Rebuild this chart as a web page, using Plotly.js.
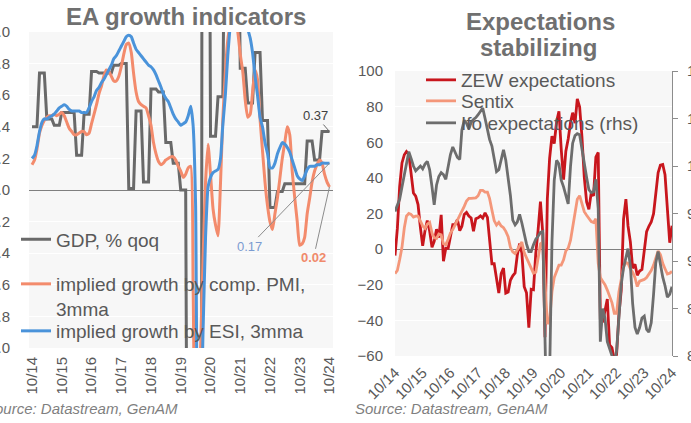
<!DOCTYPE html>
<html>
<head>
<meta charset="utf-8">
<script src="https://cdn.plot.ly/plotly-3.0.1.min.js"></script>
<style>html,body{margin:0;padding:0;background:#fff;}#chart{width:691px;height:423px;}</style>
</head>
<body>
<div id="chart"></div>
<script>
// ---- shared monthly dates (Oct 2014 - Oct 2024) ----
const months = [
 '2014-10','2014-11','2014-12',
 '2015-01','2015-02','2015-03','2015-04','2015-05','2015-06','2015-07','2015-08','2015-09','2015-10','2015-11','2015-12',
 '2016-01','2016-02','2016-03','2016-04','2016-05','2016-06','2016-07','2016-08','2016-09','2016-10','2016-11','2016-12',
 '2017-01','2017-02','2017-03','2017-04','2017-05','2017-06','2017-07','2017-08','2017-09','2017-10','2017-11','2017-12',
 '2018-01','2018-02','2018-03','2018-04','2018-05','2018-06','2018-07','2018-08','2018-09','2018-10','2018-11','2018-12',
 '2019-01','2019-02','2019-03','2019-04','2019-05','2019-06','2019-07','2019-08','2019-09','2019-10','2019-11','2019-12',
 '2020-01','2020-02','2020-03','2020-04','2020-05','2020-06','2020-07','2020-08','2020-09','2020-10','2020-11','2020-12',
 '2021-01','2021-02','2021-03','2021-04','2021-05','2021-06','2021-07','2021-08','2021-09','2021-10','2021-11','2021-12',
 '2022-01','2022-02','2022-03','2022-04','2022-05','2022-06','2022-07','2022-08','2022-09','2022-10','2022-11','2022-12',
 '2023-01','2023-02','2023-03','2023-04','2023-05','2023-06','2023-07','2023-08','2023-09','2023-10','2023-11','2023-12',
 '2024-01','2024-02','2024-03','2024-04','2024-05','2024-06','2024-07','2024-08','2024-09','2024-10'
];
const tickDates = ['2014-10-01','2015-10-01','2016-10-01','2017-10-01','2018-10-01','2019-10-01','2020-10-01','2021-10-01','2022-10-01','2023-10-01','2024-10-01'];
const tickLabels = ['10/14','10/15','10/16','10/17','10/18','10/19','10/20','10/21','10/22','10/23','10/24'];

// ---- left panel: EA growth indicators ----
const gdpQoq = [
 0.40,0.40,0.40, 0.74,0.74,0.74, 0.45,0.45,0.45, 0.41,0.41,0.41,
 0.49,0.49,0.49, 0.49,0.49,0.49, 0.22,0.22,0.22, 0.48,0.48,0.48,
 0.75,0.75,0.75, 0.74,0.74,0.74, 0.74,0.74,0.74, 0.79,0.79,0.79,
 0.80,0.80,0.80, 0.01,0.01,0.01, 0.50,0.50,0.50, 0.05,0.05,0.05,
 0.64,0.64,0.64, 0.62,0.62,0.62, 0.30,0.30,0.30, 0.17,0.17,0.17,
 0.00,0.00,0.00, -3.6,-3.6,-3.6, -11.3,-11.3,-11.3, 12.4,12.4,12.4,
 0.34,0.34,0.34, 0.59,0.59,0.59, 2.2,2.2,2.2, 2.1,2.1,2.1,
 0.77,0.77,0.77, 0.55,0.55,0.55, 0.87,0.87,0.87, 0.44,0.44,0.44,
 -0.11,-0.11,-0.11, -0.01,-0.01,-0.01, 0.04,0.04,0.04, 0.04,0.04,0.04,
 0.04,0.04,0.04, 0.31,0.31,0.31, 0.19,0.19,0.19, 0.37,0.37,0.37,
 0.37
];
const pmiImplied = [
 0.16,0.19,0.26,0.36,0.41,0.44,0.46,0.47,0.47,0.48,
 0.47,0.48,0.49,0.47,0.43,0.39,0.37,0.35,0.35,0.36,
 0.37,0.37,0.35,0.36,0.42,0.48,0.54,0.61,0.66,0.72,
 0.76,0.75,0.72,0.69,0.69,0.72,0.78,0.86,0.92,0.93,
 0.87,0.74,0.62,0.56,0.54,0.53,0.52,0.47,0.41,0.30,
 0.23,0.18,0.16,0.17,0.19,0.20,0.21,0.21,0.19,0.15,
 0.12,0.08,0.10,0.14,0.15,-0.6,-1.8,-1.6,-1.0,-0.44,
 0.05,0.29,0.10,-0.12,-0.22,-0.29,0.05,0.45,0.75,0.95,
 1.05,1.10,1.08,1.00,0.86,0.75,0.57,0.46,0.48,0.62,
 0.76,0.70,0.45,0.25,0.05,-0.10,-0.20,-0.25,-0.15,-0.05,
 0.08,0.20,0.30,0.40,0.35,0.12,-0.05,-0.20,-0.35,-0.34,
 -0.30,-0.15,-0.05,0.05,0.12,0.16,0.19,0.17,0.10,0.05,
 0.02
];
const esiImplied = [
 0.20,0.22,0.28,0.37,0.43,0.45,0.45,0.46,0.47,0.48,
 0.50,0.52,0.53,0.54,0.53,0.51,0.50,0.50,0.50,0.50,
 0.49,0.49,0.49,0.52,0.56,0.59,0.63,0.65,0.68,0.70,
 0.73,0.76,0.79,0.83,0.85,0.88,0.91,0.94,0.97,0.98,
 0.97,0.93,0.89,0.87,0.85,0.83,0.81,0.79,0.78,0.76,
 0.73,0.69,0.65,0.61,0.58,0.56,0.52,0.48,0.45,0.43,
 0.41,0.42,0.43,0.47,0.53,0.41,-0.10,-1.6,-1.5,-0.9,
 -0.30,0.02,0.08,0.11,0.12,0.13,0.20,0.41,0.60,0.85,
 1.05,1.20,1.30,1.30,1.25,1.18,1.10,1.02,0.96,0.87,
 0.72,0.60,0.46,0.40,0.30,0.23,0.14,0.14,0.17,0.23,
 0.27,0.30,0.29,0.27,0.24,0.19,0.14,0.09,0.07,0.06,
 0.09,0.13,0.15,0.15,0.15,0.16,0.16,0.17,0.17,0.17,
 0.17
];

// ---- right panel: Expectations stabilizing ----
const zewExpectations = [
 -3.6,11.5,34.9,
 48.4,53.0,54.8,53.3,41.9,31.5,29.7,25.0,12.1,1.9,10.4,16.1,
 10.2,1.0,4.3,11.2,6.4,19.2,-6.8,0.5,0.5,6.2,13.8,13.8,
 16.6,10.4,12.8,19.5,20.6,18.6,17.5,10.0,17.0,17.6,18.7,17.4,
 20.4,17.8,5.1,-8.2,-8.2,-16.1,-24.7,-13.7,-10.6,-24.7,-24.1,-17.5,
 -15.0,-13.4,-3.6,3.1,-2.1,-21.1,-24.5,-44.1,-22.5,-22.8,-2.1,10.7,
 26.7,8.7,-49.5,28.2,51.0,63.4,59.3,71.5,77.4,56.1,39.0,55.0,
 61.8,71.2,76.6,70.7,84.4,79.8,63.3,40.4,26.5,22.3,31.7,29.9,
 51.7,54.3,-39.3,-41.0,-34.3,-28.0,-53.8,-55.3,-61.9,-59.2,-36.7,-23.3,
 16.9,28.1,13.0,4.1,-10.7,-8.5,-14.7,-12.3,-11.4,-1.1,9.8,12.8,
 15.2,19.9,31.7,42.9,47.1,47.5,41.8,19.2,3.6,13.1
];
const sentix = [
 -13.7,-12,-6,1,12,18.5,20,19.5,18,18.5,
 18.5,16,13,11.6,14,15,9,6.5,6,8.5,
 8,3,2.5,5.5,9,11,13.5,16,19,21,
 24,27,28.5,28.5,28.5,28.8,30,33,33,32,
 32,28.5,22,16,13.5,15,13,12,10,7,
 1,-1.5,-2.5,-0.5,2.5,4,-2,-5,-8,-11,
 -13.5,-13,-5,3,4,-16,-42,-40,-24,-16,
 -12,-9,-9,-6,-1,0.5,5,13,22,28,
 30,25,21,19,17,15.5,15,17,-8,-16,
 -18,-20,-23,-26,-30,-36,-36,-24,-16,-10,
 -7.5,-8,-11,-13,-16,-21,-18,-17.5,-17,-16,
 -14,-12,-9,-5,-1,-3,-8,-11,-14,-13.5,
 -12.5
];
const ifoExpectations = [
 95.2,95.8,96.5,97.8,99.2,100.1,101.5,100.8,100.0,99.5,
 99.8,100.0,99.7,100.2,100.5,99.6,97.8,95.9,98.0,98.9,
 99.3,99.1,98.6,100.0,101.2,102.0,101.4,100.9,100.7,103.8,
 104.8,104.5,103.9,104.6,104.9,105.1,105.4,105.7,106.1,105.0,
 103.7,102.8,102.1,100.8,99.4,99.6,100.6,101.7,100.6,98.8,
 96.9,94.3,93.8,94.1,94.9,94.0,92.7,91.8,91.0,91.0,
 91.7,92.3,92.6,93.0,93.1,84.0,70.0,78.0,92.0,98.5,
 100.6,100.2,98.5,97.8,97.0,96.0,100.0,102.4,103.2,103.4,
 103.3,101.8,100.0,98.8,97.5,97.2,97.3,98.6,95.5,81.5,
 85.0,84.0,81.5,80.8,80.3,79.3,80.5,84.5,87.5,89.3,
 90.5,91.3,89.5,85.5,83.0,82.3,83.0,84.0,84.2,82.8,
 82.5,83.5,86.5,89.8,91.0,89.5,88.3,87.4,86.2,86.5,
 87.3
];

// ---- styling ----
const FONT = 'Liberation Sans, Arial, sans-serif';
const TXT = '#595959';
const W = 691, H = 423;
const px = v => v / W;          // horizontal pixel -> paper
const py = v => 1 - v / H;      // vertical pixel -> paper
const last = a => a[a.length - 1];
const lastDate = months[months.length - 1];

const traces = [
  {x: months, y: gdpQoq, name: 'GDP, % qoq<br> ', type: 'scatter', mode: 'lines',
   line: {color: '#696969', width: 3}, xaxis: 'x', yaxis: 'y', legend: 'legend'},
  {x: months, y: pmiImplied, name: 'implied growth by comp. PMI,<br>3mma', type: 'scatter', mode: 'lines',
   line: {color: '#f38b6c', width: 3, shape: 'spline', smoothing: 0.5}, xaxis: 'x', yaxis: 'y', legend: 'legend2'},
  {x: months, y: esiImplied, name: 'implied growth by ESI, 3mma', type: 'scatter', mode: 'lines',
   line: {color: '#4a93da', width: 3, shape: 'spline', smoothing: 0.5}, xaxis: 'x', yaxis: 'y', legend: 'legend3'},
  {x: months, y: zewExpectations, name: 'ZEW expectations', type: 'scatter', mode: 'lines',
   line: {color: '#c8161d', width: 2.8}, xaxis: 'x2', yaxis: 'y2', legend: 'legend4'},
  {x: months, y: sentix, name: 'Sentix', type: 'scatter', mode: 'lines',
   line: {color: '#f4977a', width: 2.8}, xaxis: 'x2', yaxis: 'y2', legend: 'legend5'},
  {x: months, y: ifoExpectations, name: 'Ifo expectations (rhs)', type: 'scatter', mode: 'lines',
   line: {color: '#6d6d6d', width: 2.8}, xaxis: 'x2', yaxis: 'y3', legend: 'legend6'}
];

const tickfont = {family: FONT, size: 15, color: TXT};
const legBase = (x, y) => ({x: x, y: y, xref: 'paper', yref: 'paper', xanchor: 'left', yanchor: 'middle',
  bgcolor: 'rgba(0,0,0,0)', borderwidth: 0, valign: 'top', itemwidth: 30,
  font: {family: FONT, size: 19, color: TXT}});

const ann = (text, x, y, size, extra) => Object.assign({text: text, x: x, y: y, xref: 'paper', yref: 'paper',
  showarrow: false, xanchor: 'center', yanchor: 'middle', font: {family: FONT, size: size, color: '#707070'}}, extra || {});

const layout = {
  width: W, height: H,
  margin: {l: 0, r: 0, t: 0, b: 0, autoexpand: false},
  paper_bgcolor: '#ffffff', plot_bgcolor: '#f7f7f7',
  showlegend: true,
  xaxis: {domain: [px(29), px(333)], anchor: 'y', type: 'date', range: ['2014-08-25', '2024-11-13'],
    tickvals: tickDates, ticktext: tickLabels, tickangle: -90, tickfont: tickfont,
    showgrid: false, zeroline: false, showline: false, ticks: '', automargin: false, ticklabelstandoff: 5},
  yaxis: {domain: [py(348), py(32)], anchor: 'x', range: [-1, 1], dtick: 0.2, tick0: 0, tickformat: '.1f',
    tickfont: tickfont, gridcolor: '#ffffff', gridwidth: 1, zeroline: true, zerolinecolor: '#7f7f7f',
    zerolinewidth: 1, showline: false, ticks: '', automargin: false, ticklabelstandoff: 18},
  xaxis2: {domain: [px(395), px(672)], anchor: 'y2', type: 'date', range: ['2014-10-01', '2024-10-01'],
    tickvals: tickDates, ticktext: tickLabels, tickangle: -45, tickfont: tickfont,
    showgrid: false, zeroline: false, showline: false, ticks: '', automargin: false, ticklabelstandoff: 4},
  yaxis2: {domain: [py(356), py(71)], anchor: 'x2', range: [-60, 100], dtick: 20, tick0: 0,
    tickfont: tickfont, gridcolor: '#ffffff', gridwidth: 1, zeroline: true, zerolinecolor: '#7f7f7f',
    zerolinewidth: 1, showline: false, ticks: '', automargin: false, ticklabelstandoff: 11},
  yaxis3: {overlaying: 'y2', side: 'right', anchor: 'x2', range: [80, 110], dtick: 5, tick0: 80,
    tickfont: tickfont, showgrid: false, zeroline: false, showline: true, linecolor: '#8c8c8c', linewidth: 1,
    ticks: 'outside', ticklen: 5, tickcolor: '#8c8c8c', automargin: false, ticklabelstandoff: 6},
  legend: legBase(px(16), py(252)),
  legend2: legBase(px(16), py(296.5)),
  legend3: legBase(px(16), py(331)),
  legend4: legBase(px(421), py(80)),
  legend5: legBase(px(421), py(101)),
  legend6: legBase(px(421), py(123)),
  annotations: [
    ann('<b>EA growth indicators</b>', px(186), py(17), 24),
    ann('<b>Expectations</b>', px(540), py(22), 24),
    ann('<b>stabilizing</b>', px(538), py(48), 24),
    ann('<i>Source: Datastream, GenAM</i>', px(180), py(408), 15, {xanchor: 'right', font: {family: FONT, size: 15, color: '#7f7f7f'}}),
    ann('<i>Source: Datastream, GenAM</i>', px(353), py(408), 15, {xanchor: 'left', font: {family: FONT, size: 15, color: '#7f7f7f'}}),
    {text: '0.37', x: lastDate, y: last(gdpQoq), xref: 'x', yref: 'y', showarrow: true, arrowhead: 0,
     arrowwidth: 1, arrowcolor: '#666666', ax: -14, ay: -16, standoff: 0,
     font: {family: FONT, size: 13, color: '#404040'}},
    {text: '0.17', x: lastDate, y: last(esiImplied), xref: 'x', yref: 'y', showarrow: true, arrowhead: 0,
     arrowwidth: 1, arrowcolor: '#8c8c8c', ax: -80, ay: 83, standoff: 0,
     font: {family: FONT, size: 13, color: '#7b9bd1'}},
    {text: '<b>0.02</b>', x: lastDate, y: last(pmiImplied), xref: 'x', yref: 'y', showarrow: true, arrowhead: 0,
     arrowwidth: 1, arrowcolor: '#8c8c8c', ax: -16, ay: 71, standoff: 0,
     font: {family: FONT, size: 13, color: '#f08a6b'}}
  ]
};

Plotly.newPlot('chart', traces, layout, {staticPlot: true, displayModeBar: false});
</script>
</body>
</html>
